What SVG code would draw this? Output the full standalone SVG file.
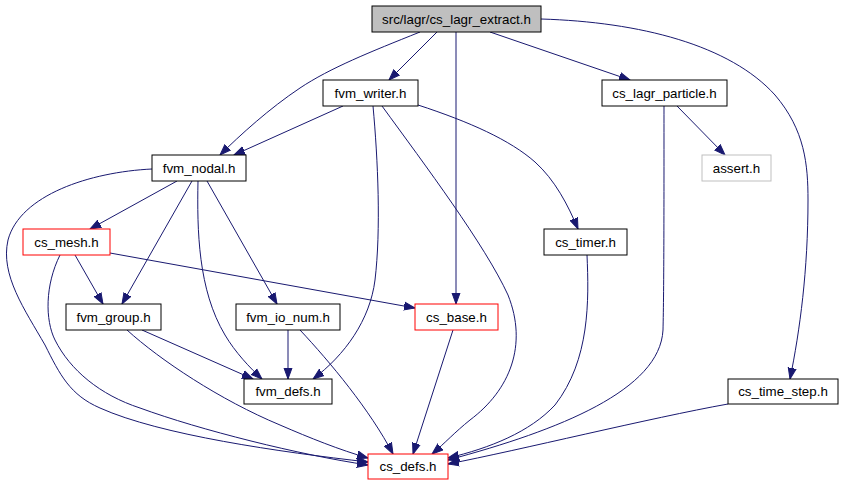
<svg xmlns="http://www.w3.org/2000/svg" width="844" height="485" viewBox="0 0 844 485">
<style>
.n rect{fill:#fff;stroke:#000;stroke-width:1}
.n.red rect{stroke:#ff0000}
.n.gray rect{stroke:#bfbfbf}
.n.root rect{fill:#bfbfbf}
.n text{font-family:"Liberation Sans",Arial,sans-serif;font-size:13.33px;fill:#000;text-anchor:middle}
#edges path{fill:none;stroke:#191970;stroke-width:1;marker-end:url(#ah)}
</style>
<defs>
<marker id="ah" markerUnits="userSpaceOnUse" markerWidth="12" markerHeight="10" refX="11" refY="5" orient="auto" viewBox="0 0 12 10">
<path d="M0,1 L11,5 L0,9 z" fill="#191970" stroke="#191970" stroke-width="1"/>
</marker>
</defs>
<rect width="844" height="485" fill="#fff"/>
<g id="edges">
<path d="M420,32 C370,52 330,68 300,88 C270,108 240,135 220,155"/>
<path d="M437,32 L389,80"/>
<path d="M456,32 L456,304"/>
<path d="M490,32 L630,80"/>
<path d="M541,19 C640,22 730,45 775,95 C805,130 808,165 808,200 C808,270 800,330 790,379"/>
<path d="M343,106 L234,155"/>
<path d="M373,106 C378,160 381,230 375,280 C370,320 345,355 313,379"/>
<path d="M382,106 C425,165 485,245 508,295 C528,345 510,390 470,420 C455,432 445,443 432,454"/>
<path d="M418,105 C470,122 510,140 535,162 C555,180 568,205 578,229"/>
<path d="M677,106 L725,155"/>
<path d="M664,106 C664,200 664,290 663,330 C660,390 560,430 448,460"/>
<path d="M177,181 L90,229"/>
<path d="M192,181 L122,304"/>
<path d="M207,181 L277,304"/>
<path d="M198,181 C197,230 198,290 225,335 C235,352 250,368 262,379"/>
<path d="M152,169 C90,172 20,195 8,240 C0,275 25,310 45,345 C60,375 70,395 100,408 C160,435 280,452 368,462"/>
<path d="M60,255 C45,285 45,320 55,340 C70,370 100,395 140,408 C200,430 300,455 368,465"/>
<path d="M75,255 L103,304"/>
<path d="M110,253 L415,308"/>
<path d="M142,330 L253,379"/>
<path d="M127,330 C160,360 220,400 280,425 C310,438 340,450 368,458"/>
<path d="M288,330 L288,379"/>
<path d="M300,330 C330,362 370,410 393,454"/>
<path d="M453,330 L413,454"/>
<path d="M587,255 C589,300 590,360 555,405 C530,432 490,448 448,458"/>
<path d="M728,404 C650,418 520,450 448,464"/>
</g>
<g id="n_root" class="n root"><rect x="372" y="6" width="169" height="26"/><text x="456.5" y="23.5">src/lagr/cs_lagr_extract.h</text></g>
<g id="n_fvm_writer" class="n"><rect x="323" y="80" width="95" height="26"/><text x="370.5" y="97.5">fvm_writer.h</text></g>
<g id="n_cs_lagr_particle" class="n"><rect x="602" y="80" width="125" height="26"/><text x="664.5" y="97.5">cs_lagr_particle.h</text></g>
<g id="n_fvm_nodal" class="n"><rect x="152" y="155" width="94" height="26"/><text x="199" y="172.5">fvm_nodal.h</text></g>
<g id="n_assert" class="n gray"><rect x="702" y="155" width="69" height="26"/><text x="736.5" y="172.5">assert.h</text></g>
<g id="n_cs_mesh" class="n red"><rect x="23" y="229" width="87" height="26"/><text x="66.5" y="246.5">cs_mesh.h</text></g>
<g id="n_cs_timer" class="n"><rect x="544" y="229" width="83" height="26"/><text x="585.5" y="246.5">cs_timer.h</text></g>
<g id="n_fvm_group" class="n"><rect x="66" y="304" width="95" height="26"/><text x="113.5" y="321.5">fvm_group.h</text></g>
<g id="n_fvm_io_num" class="n"><rect x="236" y="304" width="104" height="26"/><text x="288" y="321.5">fvm_io_num.h</text></g>
<g id="n_cs_base" class="n red"><rect x="415" y="304" width="83" height="26"/><text x="456.5" y="321.5">cs_base.h</text></g>
<g id="n_fvm_defs" class="n"><rect x="244" y="379" width="88" height="25"/><text x="288" y="396">fvm_defs.h</text></g>
<g id="n_cs_time_step" class="n"><rect x="728" y="379" width="110" height="25"/><text x="783" y="396">cs_time_step.h</text></g>
<g id="n_cs_defs" class="n red"><rect x="368" y="454" width="80" height="25"/><text x="408" y="471">cs_defs.h</text></g>
</svg>
